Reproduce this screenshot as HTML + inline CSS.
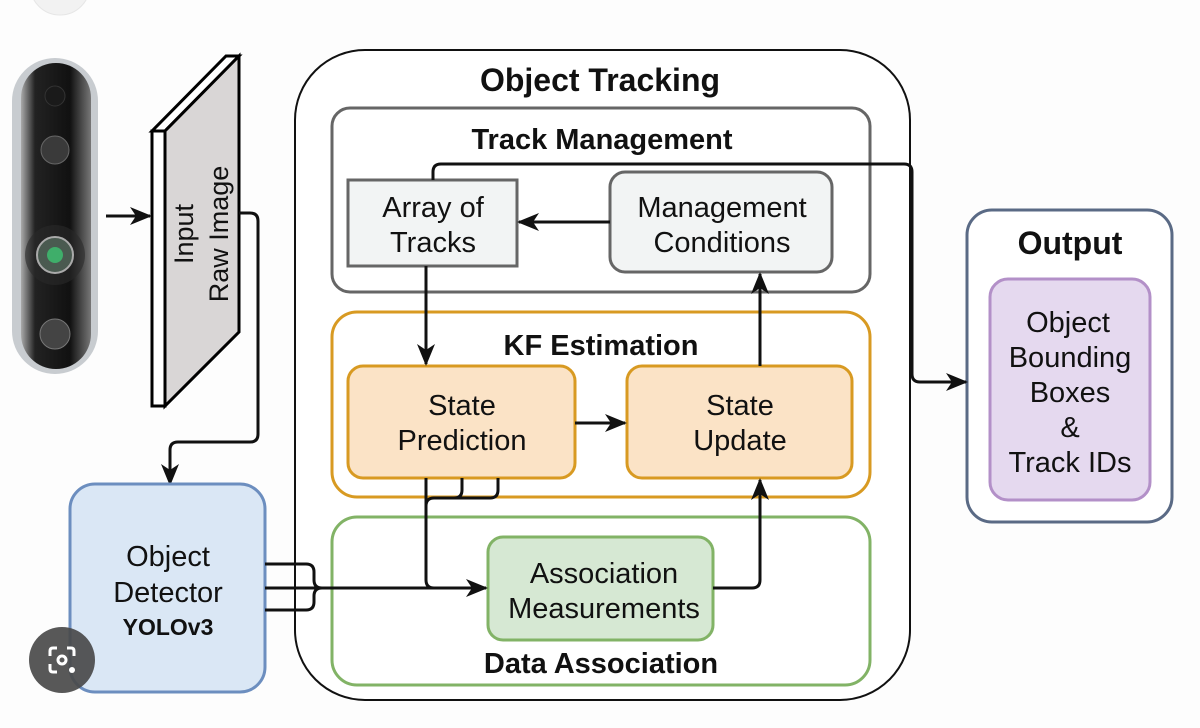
<!DOCTYPE html>
<html><head><meta charset="utf-8"><style>
html,body{margin:0;padding:0;background:#fdfdfd;width:1200px;height:728px;overflow:hidden}
svg{display:block}
text{font-family:"Liberation Sans",Arial,sans-serif;fill:#111}
.b{font-weight:bold}
</style></head><body>
<svg width="1200" height="728" viewBox="0 0 1200 728" xmlns="http://www.w3.org/2000/svg">
<defs>
<marker id="ar2" markerWidth="22" markerHeight="22" refX="20" refY="11" orient="auto" markerUnits="userSpaceOnUse" viewBox="0 0 22 22">
<path d="M0,2 L22,11 L0,20 L6,11 z" fill="#111"/>
</marker>
<linearGradient id="cam" x1="0" x2="1"><stop offset="0" stop-color="#aaa"/><stop offset="0.2" stop-color="#222"/><stop offset="0.7" stop-color="#111"/><stop offset="1" stop-color="#777"/></linearGradient>
</defs>
<rect width="1200" height="728" fill="#fdfdfd"/>
<circle cx="60" cy="-15" r="30" fill="#f2f2f2" stroke="#e6e6e6"/>
<!-- camera -->
<rect x="12" y="58" width="86" height="316" rx="43" fill="#c8ccd0"/>
<rect x="21" y="63" width="70" height="306" rx="35" fill="url(#cam)"/>
<circle cx="55" cy="96" r="10" fill="#1a1a1a" stroke="#333"/>
<circle cx="55" cy="150" r="14" fill="#3a3a3a" stroke="#666"/>
<circle cx="55" cy="255" r="30" fill="#2a2a2a" opacity="0.6"/>
<circle cx="55" cy="255" r="18" fill="#4a5a50" stroke="#aaa" stroke-width="2"/>
<circle cx="55" cy="255" r="8" fill="#3fae6a"/>
<circle cx="55" cy="334" r="15" fill="#444" stroke="#777"/>
<!-- input panel -->
<polygon points="152,131 226,56 239,56 165,131" fill="#fff" stroke="#000" stroke-width="3"/>
<polygon points="165,131 239,56 239,332 165,406" fill="#d9d6d6" stroke="#000" stroke-width="3"/>
<rect x="152" y="131" width="13" height="275" fill="#fff" stroke="#000" stroke-width="3"/>
<text transform="translate(193,234) rotate(-90)" font-size="27" text-anchor="middle">Input</text>
<text transform="translate(228,234) rotate(-90)" font-size="27" text-anchor="middle">Raw Image</text>
<line x1="106" y1="216" x2="150" y2="216" stroke="#111" stroke-width="3" marker-end="url(#ar2)"/>
<path d="M239,213 H250 Q258,213 258,221 V434 Q258,442 250,442 H178 Q170,442 170,450 V484" fill="none" stroke="#111" stroke-width="3" marker-end="url(#ar2)"/>
<!-- outer -->
<rect x="295" y="50" width="615" height="650" rx="70" fill="#fff" stroke="#111" stroke-width="2"/>
<text x="600" y="91" font-size="32" class="b" text-anchor="middle">Object Tracking</text>
<!-- track management -->
<rect x="332" y="108" width="538" height="184" rx="18" fill="#fff" stroke="#666" stroke-width="3"/>
<text x="602" y="149" font-size="29" class="b" text-anchor="middle">Track Management</text>
<rect x="348" y="180" width="169" height="86" fill="#f2f4f4" stroke="#666" stroke-width="3"/>
<text x="433" y="217" font-size="29" text-anchor="middle">Array of</text>
<text x="433" y="252" font-size="29" text-anchor="middle">Tracks</text>
<rect x="610" y="172" width="222" height="100" rx="15" fill="#f2f4f4" stroke="#666" stroke-width="3"/>
<text x="722" y="217" font-size="29" text-anchor="middle">Management</text>
<text x="722" y="252" font-size="29" text-anchor="middle">Conditions</text>
<!-- KF -->
<rect x="332" y="312" width="538" height="185" rx="25" fill="#fff" stroke="#d89a22" stroke-width="3"/>
<text x="601" y="355" font-size="29" class="b" text-anchor="middle">KF Estimation</text>
<rect x="348" y="366" width="227" height="112" rx="15" fill="#fbe3c6" stroke="#d89a22" stroke-width="3"/>
<text x="462" y="415" font-size="29" text-anchor="middle">State</text>
<text x="462" y="450" font-size="29" text-anchor="middle">Prediction</text>
<rect x="627" y="366" width="225" height="112" rx="15" fill="#fbe3c6" stroke="#d89a22" stroke-width="3"/>
<text x="740" y="415" font-size="29" text-anchor="middle">State</text>
<text x="740" y="450" font-size="29" text-anchor="middle">Update</text>
<!-- Data association -->
<rect x="332" y="517" width="538" height="168" rx="25" fill="#fff" stroke="#82b366" stroke-width="3"/>
<text x="601" y="673" font-size="29" class="b" text-anchor="middle">Data Association</text>
<rect x="488" y="537" width="225" height="103" rx="15" fill="#d6e8d3" stroke="#82b366" stroke-width="3"/>
<text x="604" y="583" font-size="29" text-anchor="middle">Association</text>
<text x="604" y="618" font-size="29" text-anchor="middle">Measurements</text>
<!-- Output -->
<rect x="967" y="210" width="205" height="312" rx="25" fill="#fff" stroke="#5a6a85" stroke-width="3"/>
<text x="1070" y="254" font-size="32" class="b" text-anchor="middle">Output</text>
<rect x="990" y="279" width="160" height="221" rx="18" fill="#e5d9ef" stroke="#b390c8" stroke-width="3"/>
<text x="1068" y="332" font-size="29" text-anchor="middle">Object</text>
<text x="1070" y="367" font-size="29" text-anchor="middle">Bounding</text>
<text x="1070" y="402" font-size="29" text-anchor="middle">Boxes</text>
<text x="1070" y="437" font-size="29" text-anchor="middle">&amp;</text>
<text x="1070" y="472" font-size="29" text-anchor="middle">Track IDs</text>
<!-- Object detector -->
<rect x="70" y="484" width="195" height="208" rx="25" fill="#dae7f5" stroke="#6c8ebf" stroke-width="3"/>
<text x="168" y="566" font-size="29" text-anchor="middle">Object</text>
<text x="168" y="602" font-size="29" text-anchor="middle">Detector</text>
<text x="168" y="635" font-size="23" class="b" text-anchor="middle">YOLOv3</text>
<!-- connectors -->
<g fill="none" stroke="#111" stroke-width="3">
<path d="M433,180 V172 Q433,164 441,164 H904 Q912,164 912,172 V374 Q912,382 920,382 H966" marker-end="url(#ar2)"/>
<path d="M610,222 H519" marker-end="url(#ar2)"/>
<path d="M426,266 V364" marker-end="url(#ar2)"/>
<path d="M575,423 H625" marker-end="url(#ar2)"/>
<path d="M760,366 V274" marker-end="url(#ar2)"/>
<path d="M713,588 H752 Q760,588 760,580 V480" marker-end="url(#ar2)"/>
<path d="M426,478 V580 Q426,588 434,588"/>
<path d="M462,478 V490 Q462,498 454,498 H434 Q426,498 426,506"/>
<path d="M498,478 V490 Q498,498 490,498 H434"/>
<path d="M265,564 H306 Q314,564 314,572 V580 Q314,588 322,588"/>
<path d="M265,610 H306 Q314,610 314,602 V596 Q314,588 322,588"/>
<path d="M265,588 H486" marker-end="url(#ar2)"/>
</g>
<!-- lens icon -->
<circle cx="62" cy="660" r="33" fill="#4a4a4a" opacity="0.92"/>
<g fill="none" stroke="#fff" stroke-width="3">
<path d="M50,656 V651 Q50,648 53,648 H57 M67,648 H71 Q74,648 74,651 V656 M50,664 V669 Q50,672 53,672 H57"/>
<circle cx="62" cy="660" r="4"/>
</g>
<circle cx="72" cy="670" r="3" fill="#fff"/>
</svg>
</body></html>
